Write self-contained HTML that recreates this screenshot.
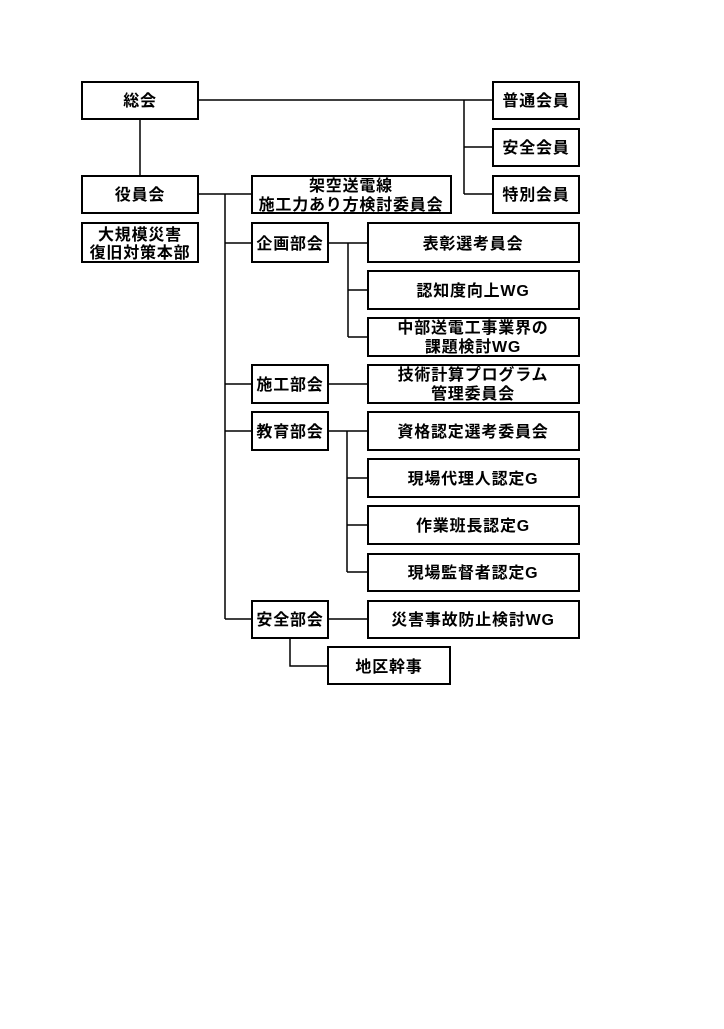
<!DOCTYPE html>
<html><head><meta charset="utf-8"><style>
body{margin:0;background:#fff;width:724px;height:1024px;overflow:hidden}
svg text{font-family:"Liberation Sans","Noto Sans CJK JP",sans-serif;font-size:16px;font-weight:bold;fill:#000;text-anchor:middle;letter-spacing:0.8px}
</style></head><body>
<svg width="724" height="1024" xmlns="http://www.w3.org/2000/svg">
<g fill="none" stroke="#000" stroke-width="1.5">
<line x1="198" y1="100" x2="493" y2="100"/>
<line x1="464" y1="100" x2="464" y2="194"/>
<line x1="464" y1="147" x2="493" y2="147"/>
<line x1="464" y1="194" x2="493" y2="194"/>
<line x1="140" y1="119" x2="140" y2="176"/>
<line x1="198" y1="194" x2="252" y2="194"/>
<line x1="225" y1="194" x2="225" y2="619"/>
<line x1="225" y1="243" x2="252" y2="243"/>
<line x1="225" y1="384" x2="252" y2="384"/>
<line x1="225" y1="431" x2="252" y2="431"/>
<line x1="225" y1="619" x2="252" y2="619"/>
<line x1="328" y1="243" x2="368" y2="243"/>
<line x1="348" y1="243" x2="348" y2="337"/>
<line x1="348" y1="290" x2="368" y2="290"/>
<line x1="348" y1="337" x2="368" y2="337"/>
<line x1="328" y1="384" x2="368" y2="384"/>
<line x1="328" y1="431" x2="368" y2="431"/>
<line x1="347" y1="431" x2="347" y2="572"/>
<line x1="347" y1="478" x2="368" y2="478"/>
<line x1="347" y1="525" x2="368" y2="525"/>
<line x1="347" y1="572" x2="368" y2="572"/>
<line x1="328" y1="619" x2="368" y2="619"/>
<polyline points="290,638 290,666 328,666"/>
</g>
<g fill="#fff" stroke="#000" stroke-width="2">
<rect x="82" y="82" width="116" height="37"/>
<rect x="493" y="82" width="86" height="37"/>
<rect x="493" y="129" width="86" height="37"/>
<rect x="493" y="176" width="86" height="37"/>
<rect x="82" y="176" width="116" height="37"/>
<rect x="82" y="223" width="116" height="39"/>
<rect x="252" y="176" width="199" height="37"/>
<rect x="252" y="223" width="76" height="39"/>
<rect x="368" y="223" width="211" height="39"/>
<rect x="368" y="271" width="211" height="38"/>
<rect x="368" y="318" width="211" height="38"/>
<rect x="252" y="365" width="76" height="38"/>
<rect x="368" y="365" width="211" height="38"/>
<rect x="252" y="412" width="76" height="38"/>
<rect x="368" y="412" width="211" height="38"/>
<rect x="368" y="459" width="211" height="38"/>
<rect x="368" y="506" width="211" height="38"/>
<rect x="368" y="554" width="211" height="37"/>
<rect x="252" y="601" width="76" height="37"/>
<rect x="368" y="601" width="211" height="37"/>
<rect x="328" y="647" width="122" height="37"/>
</g>
<text x="140" y="106">総会</text>
<text x="536" y="106">普通会員</text>
<text x="536" y="153">安全会員</text>
<text x="536" y="200">特別会員</text>
<text x="140" y="240">大規模災害</text>
<text x="140" y="258">復旧対策本部</text>
<text x="140" y="200">役員会</text>
<text x="351" y="191">架空送電線</text>
<text x="351" y="210">施工力あり方検討委員会</text>
<text x="290" y="249">企画部会</text>
<text x="473" y="249">表彰選考員会</text>
<text x="473" y="296">認知度向上WG</text>
<text x="473" y="333">中部送電工事業界の</text>
<text x="473" y="352">課題検討WG</text>
<text x="290" y="390">施工部会</text>
<text x="473" y="380">技術計算プログラム</text>
<text x="473" y="399">管理委員会</text>
<text x="290" y="437">教育部会</text>
<text x="473" y="437">資格認定選考委員会</text>
<text x="473" y="484">現場代理人認定G</text>
<text x="473" y="531">作業班長認定G</text>
<text x="473" y="578">現場監督者認定G</text>
<text x="290" y="625">安全部会</text>
<text x="473" y="625">災害事故防止検討WG</text>
<text x="389" y="672">地区幹事</text>
</svg>
</body></html>
